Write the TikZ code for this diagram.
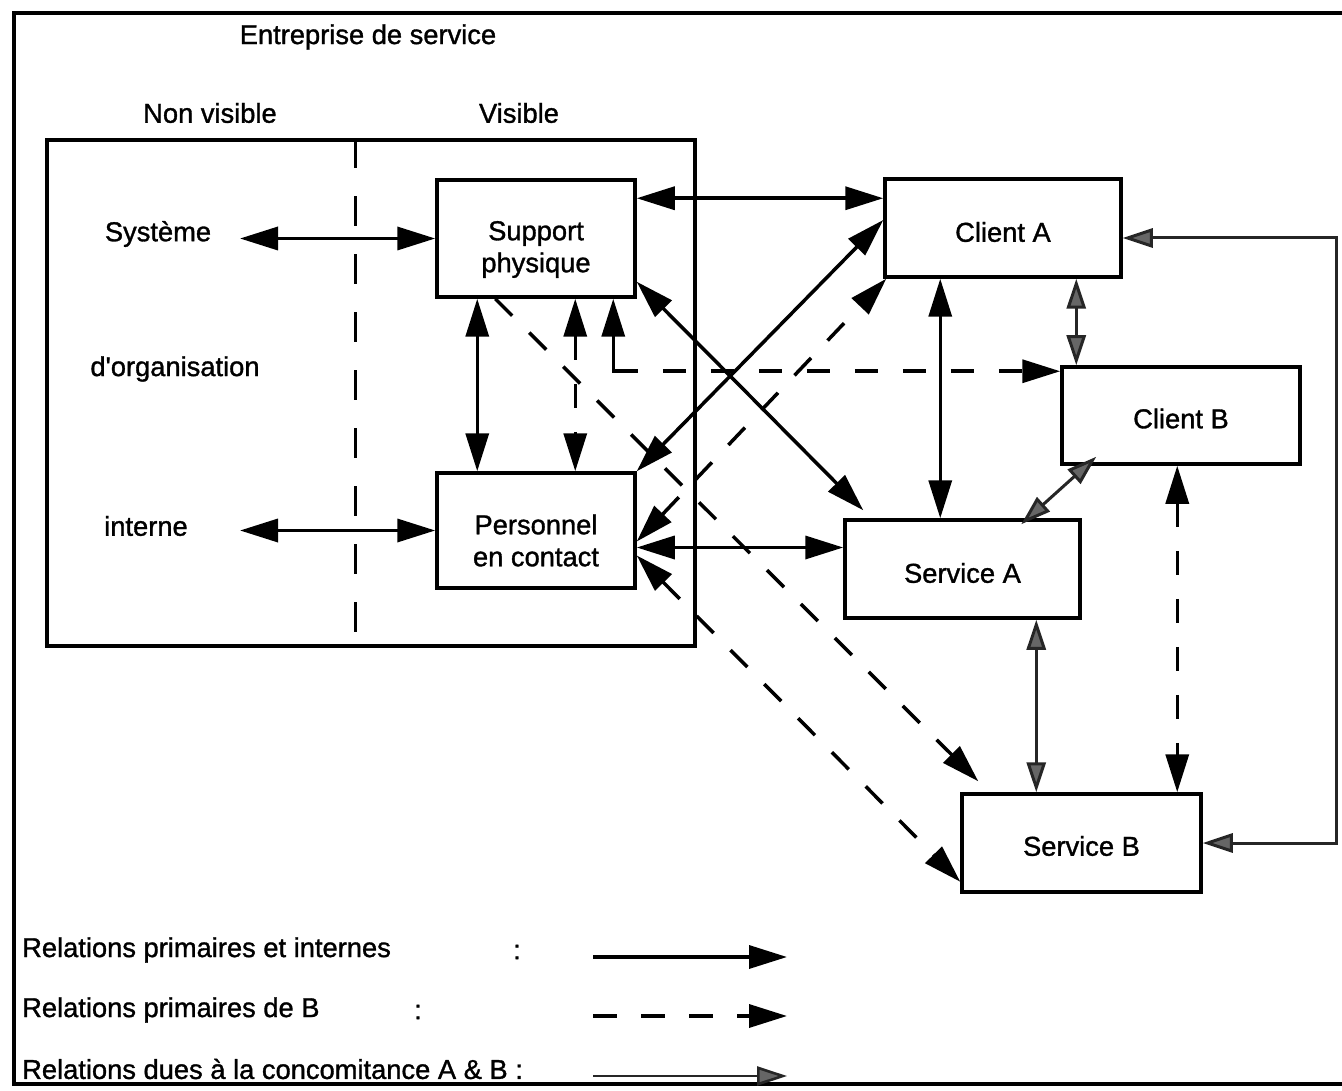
\documentclass[tikz,border=0pt]{standalone}
\usepackage{fontspec}
\setmainfont{Liberation Sans}[BoldFont=Liberation Sans, BoldFeatures={FakeBold=1.2}]
\usetikzlibrary{arrows.meta}
\begin{document}
\begin{tikzpicture}[x=1pt,y=-1pt,
  txt/.style={font=\fontsize{27.3pt}{32pt}\selectfont\bfseries, inner sep=0pt, align=center},
  box/.style={draw, line width=3.5pt, inner sep=0pt},
  biarrow/.style={line width=3.5pt, {Triangle[length=38pt,width=23pt]}-{Triangle[length=38pt,width=23pt]}},
  onearrow/.style={line width=3.5pt, -{Triangle[length=38pt,width=23pt]}},
  dbiarrow/.style={biarrow, dash pattern=on 24pt off 24pt},
  darrow/.style={onearrow, dash pattern=on 24pt off 24pt},
  gbiarrow/.style={line width=3pt, draw=black!85, {Triangle[length=30pt,width=19pt,fill=black!60]}-{Triangle[length=30pt,width=19pt,fill=black!60]}},
  garrow/.style={line width=2.6pt, draw=black!85, -{Triangle[length=30pt,width=19pt,fill=black!60]}},
  partition/.style={line width=2.5pt, dash pattern=on 30pt off 28pt}
]
\useasboundingbox (0,0) rectangle (1342,1091);

% outer frame of the company
\draw[line width=4pt] (1350,13) -- (14,13) -- (14,1084) -- (1350,1084);

% headings
\node[txt] (title) at (368,37) {Entreprise de service};
\node[txt] (nv) at (210,113) {Non visible};
\node[txt] (vi) at (519,113) {Visible};

% company block with the visibility line
\node[draw, line width=3.5pt, minimum width=648pt, minimum height=506pt, inner sep=0pt] (ent) at (371,393) {};
\draw[partition] ([xshift=310pt]ent.north west) -- ([xshift=310pt]ent.south west);

% internal organisation
\node[txt] (sys) at (158,234) {Système};
\node[txt] (org) at (175,369) {d\textquotesingle organisation};
\node[txt] (int) at (146,526) {interne};

% boxes and their captions
\node[box, minimum width=198pt, minimum height=117pt] (sp) at (536,238.5) {};
\node[box, minimum width=198pt, minimum height=115pt] (ps) at (536,530.5) {};
\node[box, minimum width=236pt, minimum height=98pt] (ca) at (1003,228) {};
\node[box, minimum width=238pt, minimum height=97pt] (cb) at (1181,415.5) {};
\node[box, minimum width=235pt, minimum height=98pt] (sa) at (962.5,569) {};
\node[box, minimum width=239pt, minimum height=98pt] (sb) at (1081.5,843) {};
\node[txt] (spt) at ([yshift=-11pt]sp.center) {Support\\physique};
\node[txt] (pst) at ([yshift=-10pt]ps.center) {Personnel\\en contact};
\node[txt] (cat) at ([yshift=-4pt]ca.center) {Client A};
\node[txt] (cbt) at ([yshift=-3pt]cb.center) {Client B};
\node[txt] (sat) at ([yshift=-4pt]sa.center) {Service A};
\node[txt] (sbt) at ([yshift=-3pt]sb.center) {Service B};

% system to front office
\coordinate (lx) at (240,0);
\draw[biarrow] (lx |- sp.west) -- (sp.west);
\draw[biarrow] (lx |- ps.west) -- (ps.west);

% support physique links
\coordinate (p3) at ([yshift=-20pt]sp.north east);
\draw[biarrow] (p3) -- (p3 -| ca.west);
\coordinate (v1) at ([xshift=42pt]sp.south west);
\draw[biarrow] (v1) -- (v1 |- ps.north);
\coordinate (v2) at ([xshift=140pt]sp.south west);
\draw[dbiarrow] (v2) -- (v2 |- ps.north);
\coordinate (v3) at ([xshift=178pt]sp.south west);
\coordinate (h3) at ([yshift=-6pt]cb.north west);
\draw[biarrow, dash pattern=on 60pt off 25pt on 23pt off 25pt on 23pt off 25pt on 23pt off 25pt on 23pt off 25pt on 23pt off 25pt on 23pt off 25pt on 23pt off 25pt on 23pt off 25pt on 23pt off 25pt on 23pt off 25pt] (v3) |- (h3);
\draw[biarrow] ([yshift=17pt]sp.south east) -- ([xshift=20pt,yshift=8pt]sa.north west);
\draw[darrow] ([xshift=60pt]sp.south west) -- ([xshift=18pt,yshift=11pt]sb.north west);

% personnel en contact links
\draw[biarrow] (ps.north east) -- ([yshift=8pt]ca.west);
\draw[dbiarrow] ([yshift=-11pt]ps.east) -- ([xshift=3pt]ca.south west);
\draw[dbiarrow] ([yshift=-25pt]ps.east) -- ([yshift=12pt]sb.south west);
\coordinate (h4) at ([yshift=-17pt]ps.east);
\draw[biarrow] (h4) -- (h4 -| sa.west);

% client / service links
\coordinate (v5) at ([xshift=57pt]ca.south west);
\draw[biarrow] (v5) -- (v5 |- sa.north);
\coordinate (v6) at ([xshift=193pt]ca.south west);
\draw[gbiarrow] (v6) -- (v6 |- cb.north);
\draw[gbiarrow] ([xshift=36pt,yshift=9pt]cb.south west) -- ([xshift=178pt,yshift=-6pt]sa.north west);
\coordinate (v7) at ([xshift=193pt]sa.south west);
\draw[gbiarrow] (v7) -- (v7 |- sb.north);
\coordinate (v8) at ([xshift=117pt]cb.south west);
\draw[dbiarrow] (v8) -- (v8 |- sb.north);
\coordinate (rail) at (1336,0);
\draw[gbiarrow] ([yshift=-10pt]ca.east) -| (rail |- sb.east) -- (sb.east);

% legend
\node[txt, anchor=west] (lg1) at (22,950) {Relations primaires et internes};
\node[txt] (c1) at (517,952) {:};
\node[txt, anchor=west] (lg2) at (22,1010) {Relations primaires de B};
\node[txt] (c2) at (418,1012) {:};
\node[txt, anchor=west] (lg3) at (22,1069) {Relations dues à la concomitance A \& B :};
\coordinate (a1) at (593,957); \coordinate (b1) at (787,957);
\coordinate (a2) at (593,1016); \coordinate (b2) at (787,1016);
\coordinate (a3) at (593,1076); \coordinate (b3) at (787,1076);
\draw[onearrow] (a1) -- (b1);
\draw[darrow] (a2) -- (b2);
\draw[garrow] (a3) -- (b3);
\end{tikzpicture}
\end{document}
